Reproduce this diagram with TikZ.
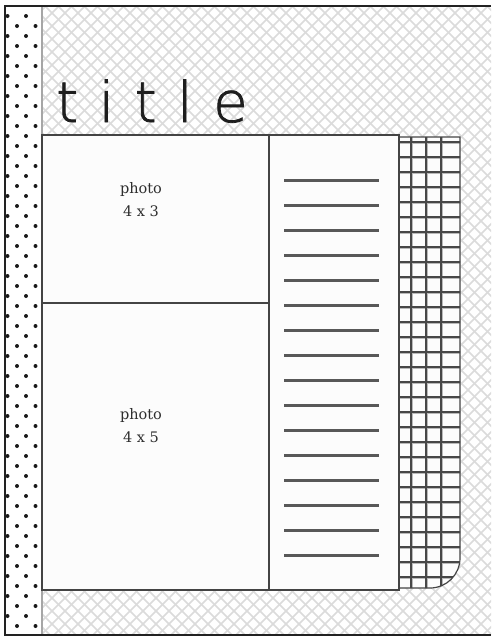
\documentclass[tikz,border=0pt]{standalone}
\usepackage{fontspec}
\newfontfamily\titlefont[FakeBold=1.4]{DejaVu Sans ExtraLight}
\newfontfamily\photofont{DejaVu Serif}
\definecolor{hatch}{HTML}{DBDBDB}
\definecolor{dotc}{HTML}{1A1A1A}
\definecolor{panelfill}{HTML}{FCFCFC}
\definecolor{panelline}{HTML}{444444}
\definecolor{jlinec}{HTML}{585858}
\definecolor{bordc}{HTML}{222222}
\definecolor{titlec}{HTML}{1E1E1E}
\definecolor{photoc}{HTML}{2E2E2E}
\tikzset{
  hatchline/.style={hatch, line width=1.6pt},
  polka/.style={fill=dotc},
  panel/.style={fill=panelfill, draw=panelline, line width=1.2pt},
  jline/.style={jlinec, line width=2.8pt},
  gridhalo/.style={gray!55, line width=3pt},
  gridcore/.style={black!72, line width=1.1pt},
  phototext/.style={anchor=base, inner sep=0pt, text=photoc, font=\photofont\fontsize{14.5}{14.5}\selectfont},
  pageborder/.style={bordc, line width=2.6pt}
}
\begin{document}
\begin{tikzpicture}[x=1pt,y=-1pt]
\useasboundingbox (0,0) rectangle (491,637);
\fill[white] (0,0) rectangle (491,637);
% crosshatch background
\begin{scope}
  \clip (42,6) rectangle (491,635);
  \foreach \c in {0,13,...,1150} {
    \draw[hatchline] (\c,0) -- ++(-650,650);
    \draw[hatchline] (\c-650,0) -- ++(650,650);
  }
\end{scope}
% polka dot strip
\fill[white] (5,6) rectangle (42,635);
\begin{scope}
  \clip (5,6) rectangle (42,635);
  \foreach \k in {0,...,31} {
    \fill[polka] (7.5,16+20*\k) circle (2pt);
    \fill[polka] (26,16+20*\k) circle (2pt);
    \fill[polka] (17,26+20*\k) circle (2pt);
    \fill[polka] (35.5,26+20*\k) circle (2pt);
  }
\end{scope}
\draw[gray!70, line width=1.4pt] (42,6) -- (42,635);
% title
\node[anchor=base west, inner sep=0pt, text=titlec, font=\titlefont\fontsize{56}{56}\selectfont] (title) at (56,122) {t\kern20.5pt i\kern20.5pt t\kern20.5pt l\kern20.5pt e};
% grid panel
\fill[panelfill] (399,137) -- (460,137) -- (460,558) .. controls (460,574.6) and (446.6,588) .. (430,588) -- (399,588) -- cycle;
\begin{scope}
  \clip (399,137) -- (460,137) -- (460,558) .. controls (460,574.6) and (446.6,588) .. (430,588) -- (399,588) -- cycle;
  \foreach \x in {411,426,441} { \draw[gridhalo] (\x,130) -- (\x,595); }
  \foreach \k in {0,...,29} { \draw[gridhalo] (395,142+15*\k) -- (465,142+15*\k); }
  \foreach \x in {411,426,441} { \draw[gridcore] (\x,130) -- (\x,595); }
  \foreach \k in {0,...,29} { \draw[gridcore] (395,142+15*\k) -- (465,142+15*\k); }
\end{scope}
\draw[panelline, line width=1.2pt] (399,137) -- (460,137) -- (460,558) .. controls (460,574.6) and (446.6,588) .. (430,588) -- (399,588) -- cycle;
% photo panels and journal panel
\draw[panel] (42,135) rectangle (269,303);
\draw[panel] (42,303) rectangle (269,590);
\draw[panel] (269,135) rectangle (399,590);
\foreach \k in {0,...,15} { \draw[jline] (284,180.7+25*\k) -- (379,180.7+25*\k); }
% photo labels
\node[phototext] (p1a) at (141,193) {photo};
\node[phototext] (p1b) at (141,216) {4 x 3};
\node[phototext] (p2a) at (141,419) {photo};
\node[phototext] (p2b) at (141,442) {4 x 5};
% page border
\draw[pageborder] (491,6) -- (5,6) -- (5,635) -- (491,635);
\end{tikzpicture}
\end{document}
